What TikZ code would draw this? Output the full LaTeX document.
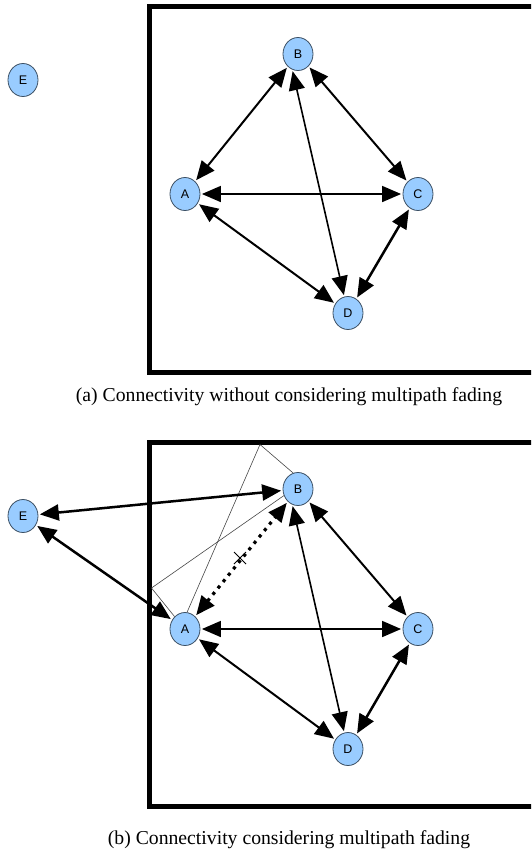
\documentclass[tikz,border=0pt]{standalone}
\usepackage{fontspec}
\setmainfont{Liberation Serif}
\newfontfamily\labelfont{Liberation Sans}
\usetikzlibrary{arrows.meta,shapes.geometric,shapes.misc}
\definecolor{nodefill}{RGB}{153,204,255}
\definecolor{nodeedge}{RGB}{60,80,100}
\definecolor{raygray}{RGB}{70,70,70}
\begin{document}
\begin{tikzpicture}[x=1pt,y=-1pt,
  station/.style={ellipse,draw=nodeedge,line width=0.8pt,fill=nodefill,
    minimum width=30pt,minimum height=33pt,inner sep=0pt,
    font=\labelfont\fontsize{12.5}{12.5}\selectfont},
  link/.style={line width=#1,
    {Triangle[length=19pt,width=16pt]}-{Triangle[length=19pt,width=16pt]},
    shorten <=1.5pt,shorten >=1.5pt},
  link/.default=2pt,
  fadedlink/.style={link=3.2pt,dash pattern=on 3.2pt off 5pt},
  wall/.style={line width=5pt},
  ray/.style={draw=raygray,line width=0.6pt},
  caption/.style={font=\fontsize{19.7}{22}\selectfont}]
\useasboundingbox (0,0) rectangle (531,849);
\clip (0,0) rectangle (531,849);

% ---------- (a) without multipath fading ----------
\draw[wall] (149,6) rectangle (570,372.5);
\node[station] (Ea) at (23,80) {E};
\node[station] (Aa) at (185,194) {A};
\node[station] (Ba) at (298,54) {B};
\node[station] (Ca) at (418,194) {C};
\node[station] (Da) at (348,313) {D};
\draw[link=2pt]   (Aa) -- (Ba);
\draw[link=1.6pt] (Aa) -- (Ca);
\draw[link=2pt]   (Aa) -- (Da);
\draw[link=2pt]   (Ba) -- (Ca);
\draw[link=1.6pt] (Ba.250) -- (Da);
\draw[link=2.5pt] (Ca) -- (Da);
\node[caption] (capa) at (289,397) {(a) Connectivity without considering multipath fading};

% ---------- (b) with multipath fading ----------
\draw[wall] (149,442) rectangle (570,806);
\coordinate (topbounce) at (260,444.5);
\coordinate (sidebounce) at (151.5,588);
\node[station] (Eb) at (23,516) {E};
\node[station] (Ab) at (185,629) {A};
\node[station] (Bb) at (298,489) {B};
\node[station] (Cb) at (418,629) {C};
\node[station] (Db) at (348,749) {D};
% reflected paths
\draw[ray] (Bb.107) -- (topbounce) -- (Ab.83);
\draw[ray] (Bb.205) -- (sidebounce) -- (Ab.130);
% links
\draw[link=2.5pt] (Eb) -- (Bb);
\draw[link=2.5pt] (Eb) -- (Ab);
\draw[fadedlink]  (Ab) -- (Bb);
\draw[link=1.6pt] (Ab) -- (Cb);
\draw[link=2pt]   (Ab) -- (Db);
\draw[link=2pt]   (Bb) -- (Cb);
\draw[link=1.6pt] (Bb.250) -- (Db);
\draw[link=2.5pt] (Cb) -- (Db);
\node[cross out,draw,line width=1pt,minimum size=11pt,inner sep=0pt] (cut) at (240,558) {};
\node[caption] (capb) at (289,840) {(b) Connectivity considering multipath fading};
\end{tikzpicture}
\end{document}
